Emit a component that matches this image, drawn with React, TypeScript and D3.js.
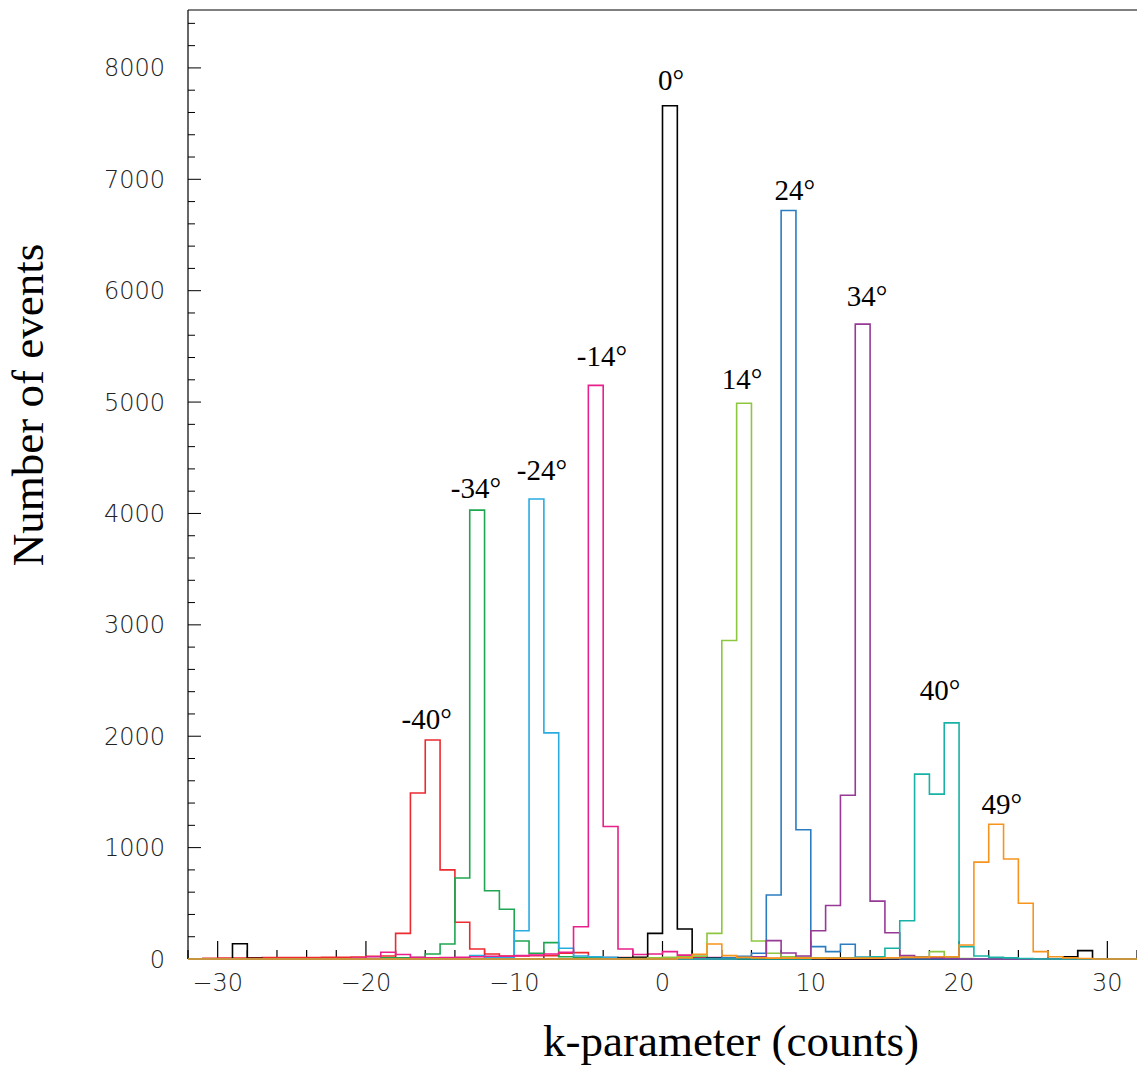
import React from "react";
import * as d3 from "d3";

// ---- data (bin start -> counts), bins are 1 unit wide ----
const binStarts = d3.range(-32, 32);

const countsM40: [number, number][] = [
  [-31, 6], [-30, 8], [-29, 8], [-28, 10], [-27, 12], [-26, 12], [-25, 12], [-24, 14], [-23, 15], [-22, 15], [-21, 18],
  [-20, 25], [-19, 27], [-18, 230], [-17, 1490], [-16, 1966], [-15, 800], [-14, 330], [-13, 90], [-12, 45],
  [-11, 27], [-10, 27], [-9, 30], [-8, 30], [-7, 51], [-6, 57], [-5, 15], [-4, 12], [-3, 12], [-2, 10], [-1, 10],
  [0, 10], [1, 8], [2, 8], [3, 6], [4, 6], [5, 5], [6, 5], [7, 5], [8, 5], [9, 4], [10, 4],
];
const countsM34: [number, number][] = [
  [-20, 5], [-19, 10], [-18, 10], [-17, 12], [-16, 45], [-15, 135], [-14, 727], [-13, 4030], [-12, 613],
  [-11, 446], [-10, 162], [-9, 51], [-8, 147], [-7, 20], [-6, 12], [-5, 10], [-4, 8], [-3, 5], [-2, 4],
];
const countsM24: [number, number][] = [
  [-15, 8], [-14, 10], [-13, 30], [-12, 15], [-11, 15], [-10, 254], [-9, 4130], [-8, 2030], [-7, 96],
  [-6, 27], [-5, 20], [-4, 15], [-3, 10], [-2, 8], [-1, 8], [0, 5], [1, 4],
];
const countsM14: [number, number][] = [
  [-21, 8], [-20, 20], [-19, 60], [-18, 40], [-17, 15], [-16, 10], [-15, 12], [-14, 15], [-13, 20], [-12, 25],
  [-11, 25], [-10, 30], [-9, 35], [-8, 45], [-7, 60], [-6, 290], [-5, 5150], [-4, 1190], [-3, 90], [-2, 40],
  [-1, 45], [0, 66], [1, 35], [2, 20], [3, 12], [4, 8], [5, 5],
];
const counts0: [number, number][] = [
  [-29, 137], [-28, 6], [-3, 8], [-2, 15], [-1, 230], [0, 7660], [1, 270], [2, 22], [3, 10], [4, 6],
  [27, 20], [28, 75],
];
const countsP14: [number, number][] = [
  [-2, 5], [-1, 10], [0, 15], [1, 20], [2, 25], [3, 230], [4, 2860], [5, 4990], [6, 162], [7, 51], [8, 20],
  [9, 15], [10, 10], [11, 8], [12, 8], [13, 8], [14, 8], [15, 10], [16, 15], [17, 20], [18, 66], [19, 15], [20, 5],
];
const countsP24: [number, number][] = [
  [3, 6], [4, 10], [5, 25], [6, 51], [7, 575], [8, 6720], [9, 1160], [10, 111], [11, 66], [12, 132],
  [13, 15], [14, 8], [15, 5],
];
const countsP34: [number, number][] = [
  [5, 10], [6, 20], [7, 165], [8, 54], [9, 27], [10, 254], [11, 480], [12, 1470], [13, 5700], [14, 520],
  [15, 236], [16, 30], [17, 15], [18, 10], [19, 5],
];
const countsP40: [number, number][] = [
  [10, 5], [11, 8], [12, 10], [13, 15], [14, 20], [15, 96], [16, 344], [17, 1660], [18, 1480], [19, 2120],
  [20, 111], [21, 27], [22, 15], [23, 10], [24, 5],
];
const countsP49: [number, number][] = [
  [1, 10], [2, 42], [3, 135], [4, 30], [5, 15], [6, 10], [7, 8], [8, 8], [9, 8], [10, 8], [11, 8], [12, 8],
  [13, 8], [14, 8], [15, 10], [16, 15], [17, 15], [18, 20], [19, 20], [20, 126], [21, 870], [22, 1210],
  [23, 898], [24, 500], [25, 66], [26, 20], [27, 10], [28, 5],
];

const seriesCounts = [countsM40, countsM34, countsM24, countsM14, counts0, countsP14, countsP24, countsP34, countsP40, countsP49];
const seriesColors = ["#ec2a30", "#1ea650", "#2aabe2", "#e8208c", "#000000", "#8dc63f", "#2b7cc0", "#963a96", "#17b2a5", "#f7941e"];
const seriesLabels = ["-40°", "-34°", "-24°", "-14°", "0°", "14°", "24°", "34°", "40°", "49°"];
const labelX = [-15.9, -12.58, -8.13, -4.08, 0.57, 5.36, 8.93, 13.79, 18.71, 22.89];
const labelY = [2065, 4139, 4301, 5324, 7802, 5118, 6814, 5863, 2325, 1302];

const xMajorTicks = [-30, -20, -10, 0, 10, 20, 30];
const xMinorTicks = d3.range(-32, 33, 2);
const yMajorTicks = [0, 1000, 2000, 3000, 4000, 5000, 6000, 7000, 8000];
const yMinorTicks = d3.range(0, 8600, 200);

const W = 1137;
const H = 1065;
const left = 188;
const right = 1137;
const top = 10;
const bottom = 959;

export default function App() {
  const x = d3.scaleLinear().domain([-32, 32]).range([left, right]);
  const y = d3.scaleLinear().domain([0, 8520]).range([bottom, top]);

  const line = d3
    .line<[number, number]>()
    .x((d) => x(d[0]))
    .y((d) => y(d[1]))
    .curve(d3.curveStepAfter);

  const paths = seriesCounts.map((pairs) => {
    const m = new Map(pairs);
    const pts: [number, number][] = binStarts.map((b) => [b, m.get(b) ?? 0]);
    pts.push([32, m.get(31) ?? 0]);
    return line(pts) as string;
  });

  const tickFont = { fontFamily: "'DejaVu Sans', sans-serif", fontSize: 24, fontWeight: 200 as const, fill: "#222" };
  const serif = { fontFamily: "'Liberation Serif', 'Times New Roman', serif" };

  return (
    <svg width={W} height={H} style={{ position: "absolute", left: 0, top: 0, background: "#fff" }}>
      <rect x={0} y={0} width={W} height={H} fill="#fff" />
      <defs>
        <clipPath id="plot">
          <rect x={left} y={top} width={right - left} height={bottom - top + 1} />
        </clipPath>
      </defs>
      {/* frame */}
      <line x1={left} x2={right} y1={top} y2={top} stroke="#000" strokeWidth={1} />
      <line x1={left} x2={left} y1={top} y2={bottom} stroke="#000" strokeWidth={1.2} />
      <line x1={left} x2={right} y1={bottom} y2={bottom} stroke="#000" strokeWidth={1.2} />
      {/* x ticks */}
      {xMinorTicks.map((t) => (
        <line key={"xm" + t} x1={x(t)} x2={x(t)} y1={bottom} y2={bottom - (xMajorTicks.includes(t) ? 18 : 9)} stroke="#000" strokeWidth={1.2} />
      ))}
      {xMajorTicks.map((t) => (
        <text key={"xl" + t} x={x(t)} y={991} textAnchor="middle" {...tickFont}>
          {t < 0 ? "\u2212" + Math.abs(t) : String(t)}
        </text>
      ))}
      {/* y ticks */}
      {yMinorTicks.map((t) => (
        <line key={"ym" + t} x1={left} x2={left + (yMajorTicks.includes(t) ? 13 : 7)} y1={y(t)} y2={y(t)} stroke="#000" strokeWidth={1} />
      ))}
      {yMajorTicks.map((t) => (
        <text key={"yl" + t} x={165} y={y(t) + 8.5} textAnchor="end" {...tickFont}>
          {String(t)}
        </text>
      ))}
      {/* histograms */}
      <g clipPath="url(#plot)">
        {paths.map((d, i) => (
          <path key={"h" + i} d={d} fill="none" stroke={seriesColors[i]} strokeWidth={1.6} />
        ))}
      </g>
      {/* annotations */}
      {seriesLabels.map((s, i) => (
        <text key={"a" + i} x={x(labelX[i])} y={y(labelY[i])} textAnchor="middle" fontSize={29} {...serif} fill="#000">
          {s}
        </text>
      ))}
      {/* axis titles */}
      <text x={731} y={1056} textAnchor="middle" fontSize={45} {...serif} fill="#000">
        k-parameter (counts)
      </text>
      <text transform="translate(43,405) rotate(-90)" textAnchor="middle" fontSize={45} {...serif} fill="#000">
        Number of events
      </text>
    </svg>
  );
}
